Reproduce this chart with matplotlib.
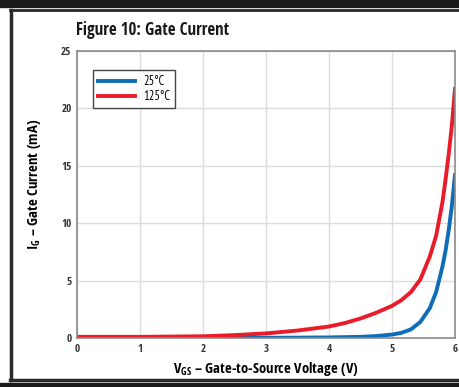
import matplotlib
matplotlib.use("Agg")
import matplotlib.pyplot as plt
from matplotlib.lines import Line2D
from matplotlib.patches import Rectangle

plt.rcParams["font.family"] = ["Open Sans Condensed", "PT Sans Narrow", "DejaVu Sans"]
plt.rcParams["mathtext.fontset"] = "custom"
plt.rcParams["mathtext.rm"] = "Open Sans Condensed"

VOLTS_RED = [0, 1, 2, 2.5, 3, 3.5, 4.0, 4.25, 4.5, 4.75, 5.0, 5.15, 5.3, 5.45, 5.6, 5.7, 5.8, 5.85, 5.9, 5.95, 6.0]
CURRENT_125C = [0.1, 0.1, 0.15, 0.25, 0.4, 0.65, 1.0, 1.3, 1.7, 2.2, 2.8, 3.3, 4.0, 5.1, 7.1, 8.9, 11.8, 13.8, 16.0, 18.5, 21.7]
VOLTS_BLUE = [0, 1, 2, 2.5, 3, 3.5, 4.0, 4.5, 4.75, 5.0, 5.15, 5.3, 5.45, 5.6, 5.7, 5.8, 5.85, 5.9, 5.95, 6.0]
CURRENT_25C = [0, 0, 0, 0, 0.02, 0.03, 0.05, 0.1, 0.17, 0.3, 0.45, 0.75, 1.4, 2.6, 4.0, 6.2, 7.6, 9.4, 11.5, 14.2]
X_TICKS = [0, 1, 2, 3, 4, 5, 6]
Y_TICKS = [0, 5, 10, 15, 20, 25]
SERIES_LABELS = ["25°C", "125°C"]

BLUE = "#0f6cb6"
RED = "#ea1c2a"
W, H = 460, 387

fig = plt.figure(figsize=(W / 100, H / 100), dpi=100)
fig.patch.set_facecolor("white")

# outer frame bits
fig.patches.append(Rectangle((0, 1 - 7 / H), 1, 7 / H, transform=fig.transFigure, color="#1a1a1a", zorder=0))
fig.patches.append(Rectangle((0, 0), 1, 4 / H, transform=fig.transFigure, color="#1a1a1a", zorder=0))
fig.lines.append(Line2D([11 / W, 11 / W], [1 - 10 / H, 1 - 380 / H], transform=fig.transFigure, color="#2a2a2a", lw=2.5))
fig.lines.append(Line2D([10 / W, 1], [1 - 10 / H, 1 - 10 / H], transform=fig.transFigure, color="#2a2a2a", lw=2.0))
fig.lines.append(Line2D([10 / W, 1], [1 - 380 / H, 1 - 380 / H], transform=fig.transFigure, color="#2a2a2a", lw=2.5))

ax = fig.add_axes([77 / W, 1 - 338 / H, 378 / W, 287 / H])
ax.plot(VOLTS_BLUE, CURRENT_25C, color=BLUE, lw=2.8, label=SERIES_LABELS[0])
ax.plot(VOLTS_RED, CURRENT_125C, color=RED, lw=2.8, label=SERIES_LABELS[1])

ax.set_xlim(0, 6)
ax.set_ylim(0, 25)
ax.set_xticks(X_TICKS)
ax.set_yticks(Y_TICKS)
ax.tick_params(length=0, labelsize=8, colors="#333333", pad=4)
for lab in ax.get_xticklabels() + ax.get_yticklabels():
    lab.set_fontweight("bold")
ax.grid(True, color="#dcdcdc", lw=1)
ax.set_axisbelow(True)
for s in ax.spines.values():
    s.set_color("#8a8a8a")
    s.set_linewidth(1.2)

ax.set_xlabel(r"V$_{\mathrm{GS}}$ – Gate-to-Source Voltage (V)", fontsize=10.5, fontweight="bold", labelpad=4)
ax.set_ylabel(r"I$_{\mathrm{G}}$ – Gate Current (mA)", fontsize=10.5, fontweight="bold")
ax.yaxis.set_label_coords(-0.09, 0.535)

leg = ax.legend(loc="upper left", bbox_to_anchor=(0.042, 0.934), borderaxespad=0,
                prop={"family": ["PT Sans Narrow", "DejaVu Sans"], "size": 9}, frameon=True,
                fancybox=False, handlelength=3.0, borderpad=0.4, labelspacing=0.2, handletextpad=0.6)
leg.get_frame().set_edgecolor("#444444")
leg.get_frame().set_linewidth(1.0)
leg.get_frame().set_alpha(1)

fig.text(76 / W, 1 - 30 / H, "Figure 10: Gate Current", fontsize=12.2, fontweight="bold", va="center", ha="left", color="#1a1a1a")

fig.savefig("out.png", dpi=100)
